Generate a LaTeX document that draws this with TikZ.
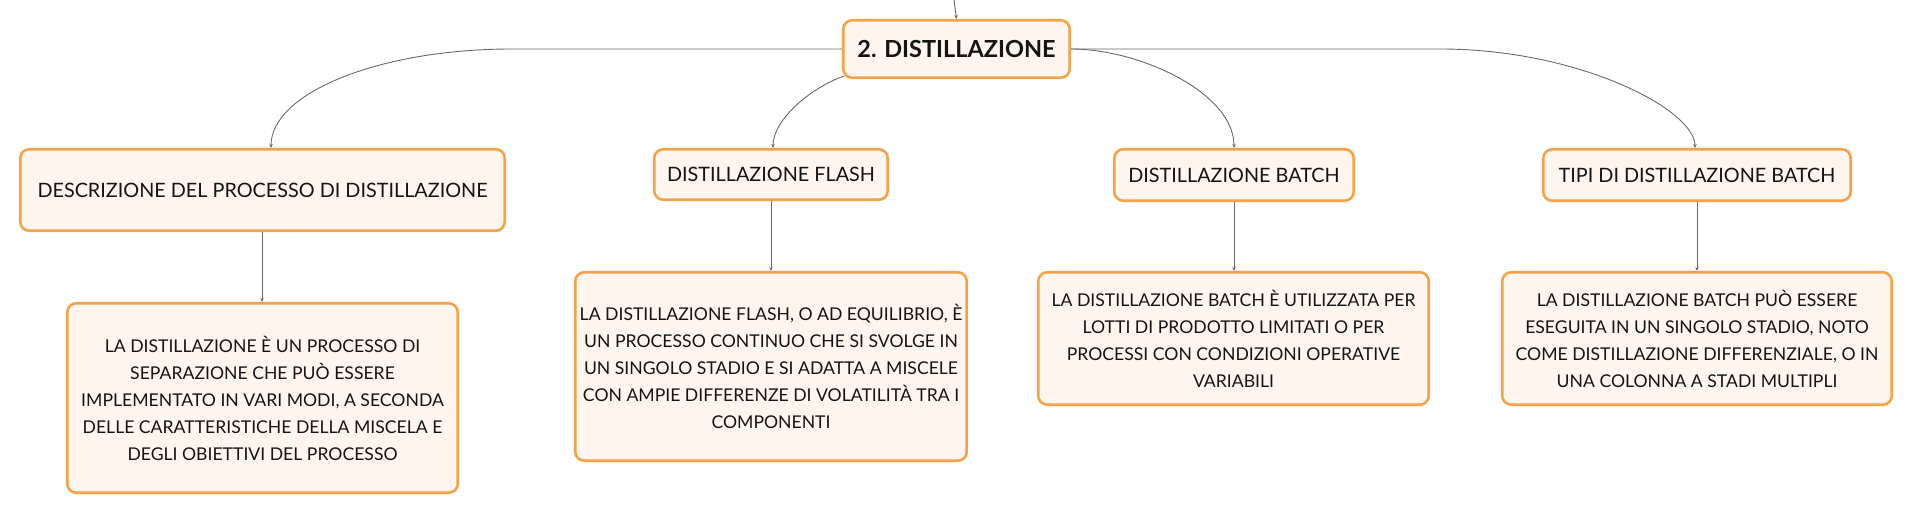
\documentclass[tikz,border=0pt]{standalone}
\usepackage{fontspec}
\setmainfont{Lato}
\usetikzlibrary{arrows.meta}
\definecolor{boxborder}{RGB}{243,163,75}
\definecolor{boxfill}{RGB}{254,246,238}
\definecolor{conn}{RGB}{105,105,105}
\definecolor{txt}{RGB}{20,20,20}
\tikzset{
  box/.style={draw=boxborder, line width=2.6pt, fill=boxfill, rounded corners=9pt,
    align=center, inner sep=0pt, text=txt},
  rootbox/.style={box, font=\fontsize{23.5}{26}\selectfont\bfseries},
  topicbox/.style={box, font=\fontsize{19.8}{24}\selectfont},
  detailbox/.style={box, font=\fontsize{17.6}{27}\selectfont},
  link/.style={draw=conn, line width=0.9pt, -{Stealth[length=4pt,width=3.5pt]}},
}
\begin{document}
\begin{tikzpicture}[x=1pt,y=1pt]
\useasboundingbox (0,0) rectangle (1914,-514);
% root
\node[rootbox, minimum width=226.5pt, minimum height=57.5pt] (c) at (956.5,-49) {2. DISTILLAZIONE};
\coordinate (top) at (954,0);
% topics
\node[topicbox, minimum width=484.5pt, minimum height=81.5pt] (d1) at (262.5,-190) {DESCRIZIONE DEL PROCESSO DI DISTILLAZIONE};
\node[topicbox, minimum width=233.5pt, minimum height=50.5pt] (f) at (771,-174.5) {DISTILLAZIONE FLASH};
\node[topicbox, minimum width=239.5pt, minimum height=51.5pt] (b) at (1234,-175) {DISTILLAZIONE BATCH};
\node[topicbox, minimum width=307.5pt, minimum height=51.5pt] (t) at (1697,-175) {TIPI DI DISTILLAZIONE BATCH};
% details
\node[detailbox, minimum width=390.5pt, minimum height=189.5pt] (dd1) at (262.5,-398) {LA DISTILLAZIONE È UN PROCESSO DI\\SEPARAZIONE CHE PUÒ ESSERE\\IMPLEMENTATO IN VARI MODI, A SECONDA\\DELLE CARATTERISTICHE DELLA MISCELA E\\DEGLI OBIETTIVI DEL PROCESSO};
\node[detailbox, minimum width=391.5pt, minimum height=188.5pt] (dd2) at (771,-366.5) {LA DISTILLAZIONE FLASH, O AD EQUILIBRIO, È\\UN PROCESSO CONTINUO CHE SI SVOLGE IN\\UN SINGOLO STADIO E SI ADATTA A MISCELE\\CON AMPIE DIFFERENZE DI VOLATILITÀ TRA I\\COMPONENTI};
\node[detailbox, minimum width=390.5pt, minimum height=132.5pt] (dd3) at (1233.5,-338.5) {LA DISTILLAZIONE BATCH È UTILIZZATA PER\\LOTTI DI PRODOTTO LIMITATI O PER\\PROCESSI CON CONDIZIONI OPERATIVE\\VARIABILI};
\node[detailbox, minimum width=389.5pt, minimum height=132.5pt] (dd4) at (1697,-338.5) {LA DISTILLAZIONE BATCH PUÒ ESSERE\\ESEGUITA IN UN SINGOLO STADIO, NOTO\\COME DISTILLAZIONE DIFFERENZIALE, O IN\\UNA COLONNA A STADI MULTIPLI};
% connectors
\draw[link] (top) -- (c.north);
\draw[link] (c.west) -- (512,-49) .. controls (379,-49) and ([xshift=8.5pt]d1.north |- 0,-93) .. ([xshift=8.5pt]d1.north);
\draw[link] ([xshift=2pt,yshift=3pt]c.south west) .. controls (810,-88) and ([xshift=2pt]f.north |- 0,-120) .. ([xshift=2pt]f.north);
\draw[link] (c.east) .. controls (1140,-49) and (b.north |- 0,-93) .. (b.north);
\draw[link] (c.east) -- (1440,-49) .. controls (1580,-49) and ([xshift=-2pt]t.north |- 0,-110) .. ([xshift=-2pt]t.north);
\draw[link] ([xshift=-0.5pt]d1.south) -- ([xshift=-0.5pt]d1.south |- dd1.north);
\draw[link] (f.south) -- (f.south |- dd2.north);
\draw[link] (b.south) -- (b.south |- dd3.north);
\draw[link] (t.south) -- (t.south |- dd4.north);
\end{tikzpicture}
\end{document}
